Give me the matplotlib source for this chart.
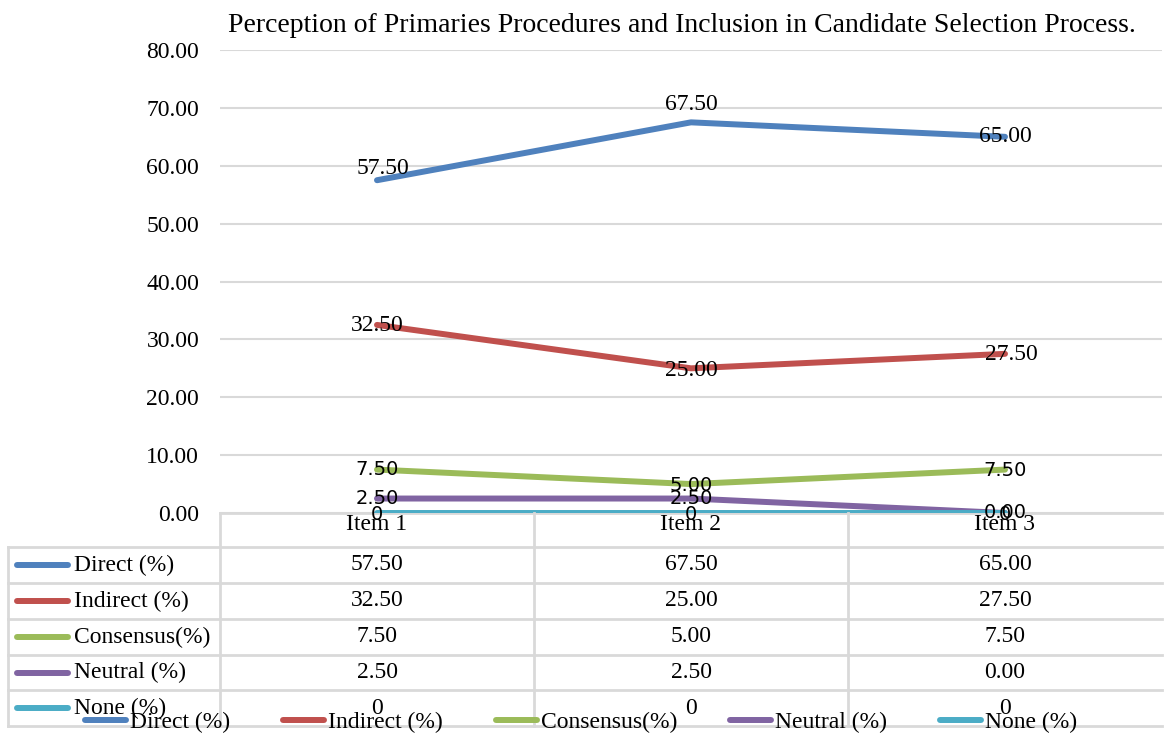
import matplotlib
matplotlib.use("Agg")
import matplotlib.pyplot as plt
from matplotlib.lines import Line2D
from matplotlib.transforms import blended_transform_factory

plt.rcParams['font.family'] = ['Liberation Serif', 'DejaVu Serif']

# ---- data ----
categories = ["Item 1", "Item 2", "Item 3"]
series_names = ["Direct (%)", "Indirect (%)", "Consensus(%)", "Neutral (%)", "None (%)"]
direct = [57.50, 67.50, 65.00]
indirect = [32.50, 25.00, 27.50]
consensus = [7.50, 5.00, 7.50]
neutral = [2.50, 2.50, 0.00]
none_ = [0, 0, 0]
series_values = [direct, indirect, consensus, neutral, none_]
value_formats = ["{:.2f}", "{:.2f}", "{:.2f}", "{:.2f}", "{:d}"]
y_ticks = [0, 10, 20, 30, 40, 50, 60, 70, 80]
title = "Perception of Primaries Procedures and Inclusion in Candidate Selection Process."

# ---- style ----
colors = ["#4F81BD", "#C0504D", "#9BBB59", "#8064A2", "#4BACC6"]
grid_c = "#D9D9D9"
LW = 4.3
label_fonts = [
    dict(family="Liberation Serif", size=17),
    dict(family="Liberation Serif", size=17),
    dict(family="DejaVu Sans", size=14),
    dict(family="DejaVu Sans", size=14),
    dict(family="DejaVu Sans", size=14),
]
# per-label nudges in pixels (dx, dy)
label_nudges = [
    [(6, 12), (0, 18), (0, 0)],
    [(0, -1), (0, -2), (6, -1)],
    [(0, 0), (0, -1), (0, -1)],
    [(0, 0), (0, 0), (0, 0)],
    [(0, -1), (0, -1), (0, -1)],
]

W, H = 1168, 733
fig = plt.figure(figsize=(W / 100, H / 100), dpi=100)
ax = fig.add_axes([220 / W, 1 - 513 / H, (1162 - 220) / W, (513 - 50) / H])

x = list(range(len(categories)))
for vals, c in zip(series_values, colors):
    ax.plot(x, vals, color=c, lw=LW, solid_capstyle="round", zorder=3)

ax.set_xlim(-0.5, len(categories) - 0.5)
ax.set_ylim(0, 80)
ax.set_yticks(y_ticks)
ax.set_yticklabels([f"{v:.2f}" for v in y_ticks], fontsize=17)
ax.set_xticks(x)
ax.set_xticklabels(categories, fontsize=17)
ax.tick_params(axis="y", length=0, pad=15)
ax.tick_params(axis="x", length=0, pad=1)
ax.grid(axis="y", color=grid_c, lw=1.5)
ax.set_axisbelow(True)
for s in ["top", "right", "left"]:
    ax.spines[s].set_visible(False)
ax.spines["bottom"].set_color(grid_c)
ax.spines["bottom"].set_linewidth(2)

# data labels
for vals, fmt, fnt, nudges in zip(series_values, value_formats, label_fonts, label_nudges):
    for xi, v, (dx, dy) in zip(x, vals, nudges):
        ax.annotate(fmt.format(v), (xi, v), xytext=(dx * 0.72, dy * 0.72),
                    textcoords="offset points", ha="center", va="center",
                    color="black", zorder=5, annotation_clip=False, **fnt)

fig.text(682 / W, 1 - 25 / H, title, ha="center", va="center", fontsize=20)

# ---- data table below the axes ----
tr = blended_transform_factory(ax.transData, fig.transFigure)
fy = lambda py: 1 - py / H
fx = lambda px: px / W
row_edges = [547, 583, 619, 655, 690, 726]
x_left = -0.5 - (220 - 8) / ((1162 - 220) / len(categories))  # data x of left border
x_right = len(categories) - 0.5

line_kw = dict(color=grid_c, lw=2, transform=tr, clip_on=False, zorder=1)
for ry in row_edges:
    fig.add_artist(Line2D([x_left, x_right], [fy(ry), fy(ry)], **line_kw))
fig.add_artist(Line2D([x_left, x_left], [fy(row_edges[0]), fy(row_edges[-1])], **line_kw))
for bx in [-0.5 + i for i in range(len(categories))]:
    fig.add_artist(Line2D([bx, bx], [fy(513), fy(row_edges[-1])], **line_kw))

for i, (name, vals, fmt, c) in enumerate(zip(series_names, series_values, value_formats, colors)):
    yc = fy((row_edges[i] + row_edges[i + 1]) / 2)
    fig.add_artist(Line2D([fx(17), fx(68)], [yc, yc], color=c, lw=LW,
                          solid_capstyle="round", zorder=2))
    fig.text(fx(74), yc, name, ha="left", va="center", fontsize=17)
    for xi, v in zip(x, vals):
        fig.text(xi, yc, fmt.format(v), ha="center", va="center", fontsize=17, transform=tr)

# legend along the bottom
handles = [Line2D([], [], color=c, lw=LW, solid_capstyle="round") for c in colors]
fig.legend(handles, series_names, loc="center", bbox_to_anchor=(581 / W, fy(722)), ncol=5,
           frameon=False, fontsize=17, handlelength=1.75, handletextpad=0.15,
           columnspacing=2.25, borderpad=0)

fig.savefig("out.png", dpi=100)
